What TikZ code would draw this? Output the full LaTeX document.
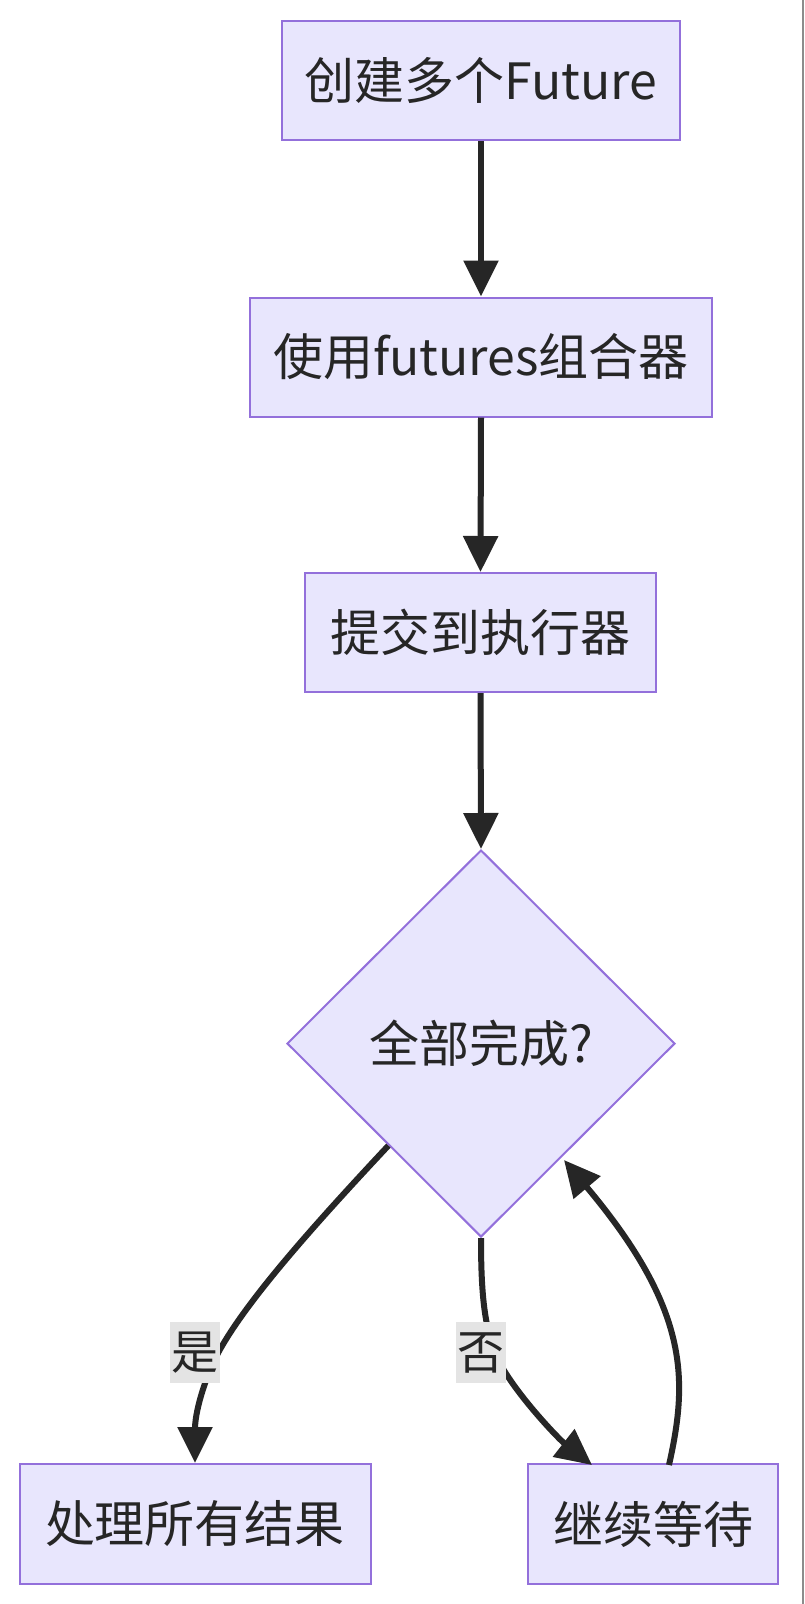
\documentclass[tikz,border=0pt]{standalone}
\usepackage{fontspec}
\setmainfont{Noto Sans CJK SC}
\usetikzlibrary{shapes.geometric,arrows.meta,calc}
\definecolor{nodefill}{HTML}{E8E6FD}
\definecolor{nodeline}{HTML}{9370DB}
\definecolor{edgecol}{HTML}{262626}
\definecolor{txt}{HTML}{262626}
\definecolor{lblbg}{HTML}{E4E4E4}
\tikzset{
  box/.style={draw=nodeline, fill=nodefill, line width=2pt, rectangle, inner sep=0pt,
    minimum height=119pt, text=txt, font=\fontsize{50}{52}\selectfont},
  decide/.style={draw=nodeline, fill=nodefill, line width=2pt, diamond, inner sep=0pt,
    minimum width=388pt, minimum height=387pt, text=txt, font=\fontsize{50}{52}\selectfont},
  edge/.style={draw=edgecol, line width=6pt, -{Triangle[length=36pt,width=34pt]}},
  lbl/.style={fill=lblbg, inner sep=0pt, minimum width=50pt, minimum height=61pt,
    text=txt, font=\fontsize{47}{49}\selectfont},
}
\begin{document}
\begin{tikzpicture}[x=1pt,y=-1pt]
\useasboundingbox (0,0) rectangle (804,1604);
\fill[white] (0,0) rectangle (804,1604);
\draw[line width=1.2pt, color=gray!90] (803,0) -- (803,1604);

\node[box, minimum width=398pt] (b1) at (481,80.5) {创建多个Future};
\node[box, minimum width=462pt] (b2) at (481,357) {使用futures组合器};
\node[box, minimum width=351pt] (b3) at (480.5,632.5) {提交到执行器};
\node[decide] (d) at (481,1043.5) {全部完成?};
\node[box, minimum width=351pt, minimum height=120pt] (b4) at (195,1524) {处理所有结果};
\node[box, minimum width=250pt, minimum height=120pt] (b5) at (653,1524) {继续等待};

\coordinate (ys) at ($(d.west)!0.525!(d.south)$);
\coordinate (nt) at (592,1465);
\coordinate (ls) at (669,1465);
\coordinate (le) at (564,1160);

\draw[edge] (b1.south) -- (b2.north);
\draw[edge] (b2.south) -- (b3.north);
\draw[edge] (b3.south) -- (d.north);
\draw[edge] (ys) .. controls (300,1240) and (230,1320) .. (210,1370)
  .. controls (198,1400) and (195,1420) .. (b4.north);
\draw[edge] (d.south) .. controls (481,1300) and (485,1340) .. (505,1372)
  .. controls (525,1404) and (560,1440) .. (nt);
\draw[edge] (ls) .. controls (688,1380) and (690,1310) .. (le);

\node[lbl] (lyes) at (195,1352.5) {是};
\node[lbl] (lno) at (481,1352.5) {否};
\end{tikzpicture}
\end{document}
